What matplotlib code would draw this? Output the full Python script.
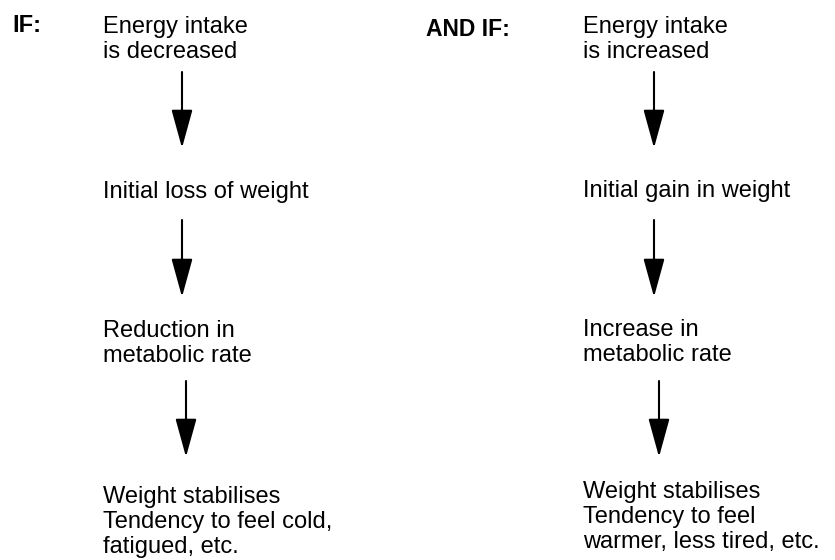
import matplotlib.pyplot as plt
from matplotlib.patches import FancyArrowPatch

# flowchart content
left_label = "IF:"
right_label = "AND IF:"
left_steps = ["Energy intake\nis decreased",
              "Initial loss of weight",
              "Reduction in\nmetabolic rate",
              "Weight stabilises\nTendency to feel cold,\nfatigued, etc."]
right_steps = ["Energy intake\nis increased",
               "Initial gain in weight",
               "Increase in\nmetabolic rate",
               "Weight stabilises\nTendency to feel\nwarmer, less tired, etc."]

# layout (pixel coordinates, y downwards)
left_text_x, right_text_x = 103, 583
left_tops = [16, 181, 320, 486]
right_tops = [16, 180, 319, 481]
left_arrow_x = [182, 182, 186]
right_arrow_x = [654, 654, 659]
arrow_start = [72, 220, 381]
arrow_end = [148, 297, 457]

plt.rcParams['font.family'] = ['Liberation Sans', 'DejaVu Sans']
fs = 17

fig = plt.figure(figsize=(8.35, 5.6), dpi=100)
ax = fig.add_axes([0, 0, 1, 1])
ax.set_xlim(0, 835)
ax.set_ylim(560, 0)
ax.axis("off")

ax.text(12, 32, left_label, fontsize=fs, fontweight="bold", va="baseline")
ax.text(426, 36, right_label, fontsize=fs - 0.5, fontweight="bold", va="baseline")


def column(tx, tops, steps, arrow_x):
    for t, s in zip(tops, steps):
        ax.text(tx, t, s, fontsize=fs, va="top", ha="left", linespacing=1.19)
    for x, y0, y1 in zip(arrow_x, arrow_start, arrow_end):
        arr = FancyArrowPatch((x, y0), (x, y1),
                              arrowstyle="-|>,head_length=2.4,head_width=0.66",
                              mutation_scale=10, lw=1.5, color="black",
                              shrinkA=0, shrinkB=0)
        ax.add_patch(arr)


column(left_text_x, left_tops, left_steps, left_arrow_x)
column(right_text_x, right_tops, right_steps, right_arrow_x)

fig.savefig("out.png", dpi=100)
